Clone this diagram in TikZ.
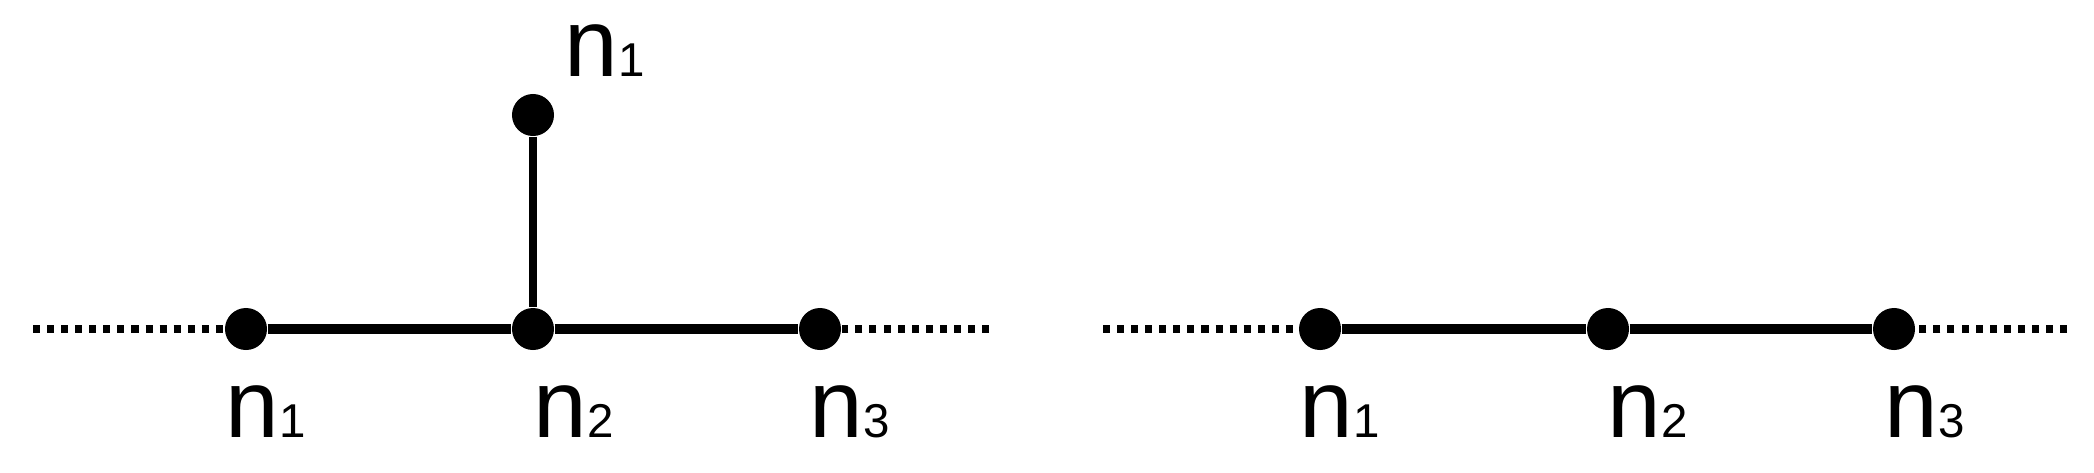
\documentclass[tikz,border=0pt]{standalone}
\usepackage{fontspec}
\setmainfont{Liberation Sans}
\newcommand{\nlab}[1]{{\fontsize{27.4}{30}\selectfont n}{\fontsize{13.5}{14}\selectfont #1}}
\tikzset{
  vertex/.style={circle,fill=black,inner sep=0pt,minimum size=0.42cm},
  edge/.style={line width=2.7pt},
  dots/.style={line width=2.4pt,dash pattern=on 2pt off 2pt},
  lbl/.style={anchor=base west,inner sep=0pt}
}
\begin{document}
\begin{tikzpicture}[x=0.01cm,y=-0.01cm]
	\useasboundingbox (0,0) rectangle (2094,472);

	% left: n_1 hangs off n_2
	\node[vertex] (a1) at (246,329) {};
	\node[vertex] (a2) at (533,329) {};
	\node[vertex] (a3) at (820,329) {};
	\node[vertex] (atop) at (533,115) {};
	\coordinate (aw) at (33,329);
	\coordinate (ae) at (989,329);
	\draw[edge] (a1) -- (a2) -- (a3);
	\draw[edge,line width=2.4pt] (atop) -- (a2);
	\draw[dots] (aw) -- (a1);
	\draw[dots] (ae) -- (a3);
	\node[lbl] (la1) at (225,437) {\nlab{1}};
	\node[lbl] (la2) at (533,437) {\nlab{2}};
	\node[lbl] (la3) at (809,437) {\nlab{3}};
	\node[lbl] (latop) at (564,76) {\nlab{1}};

	% right: plain chain
	\node[vertex] (b1) at (1320,329) {};
	\node[vertex] (b2) at (1608,329) {};
	\node[vertex] (b3) at (1894,329) {};
	\coordinate (bw) at (1103,329);
	\coordinate (be) at (2067,329);
	\draw[edge] (b1) -- (b2) -- (b3);
	\draw[dots] (bw) -- (b1);
	\draw[dots] (be) -- (b3);
	\node[lbl] (lb1) at (1299,437) {\nlab{1}};
	\node[lbl] (lb2) at (1607,437) {\nlab{2}};
	\node[lbl] (lb3) at (1884,437) {\nlab{3}};
\end{tikzpicture}
\end{document}
